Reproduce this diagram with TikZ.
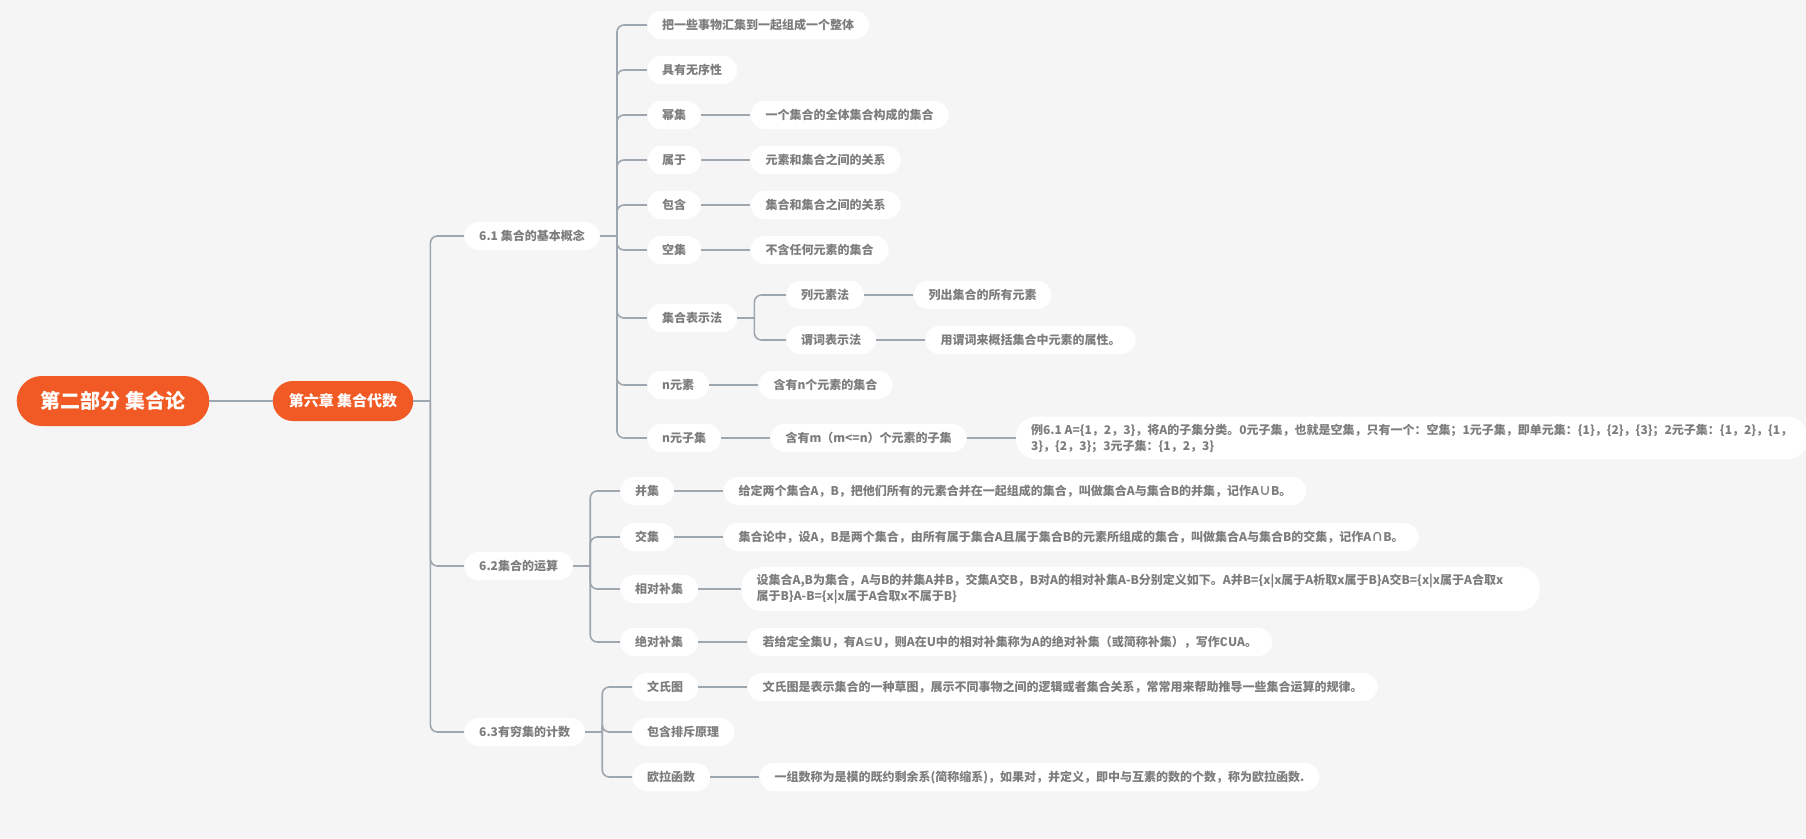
\documentclass[tikz,border=0pt]{standalone}
\usepackage{fontspec}
\setmainfont{Noto Sans CJK SC}
\newfontfamily\symfont{DejaVu Sans}
\usetikzlibrary{positioning,calc}
\definecolor{paper}{HTML}{F5F5F5}
\definecolor{flame}{HTML}{F15A24}
\definecolor{ink}{HTML}{7D7D7D}
\definecolor{wire}{HTML}{9EA6AF}

\begin{document}
\begin{tikzpicture}[x=1pt,y=-1pt,node distance=49pt,
  root/.style={fill=flame,text=white,font=\bfseries\fontsize{20}{24}\selectfont,rounded corners=25pt,minimum height=50pt,inner xsep=24pt},
  chapter/.style={fill=flame,text=white,font=\bfseries\fontsize{15}{18}\selectfont,rounded corners=20pt,minimum height=40pt,inner xsep=16pt},
  topic/.style={fill=white,text=ink,font=\bfseries\fontsize{12}{16}\selectfont,rounded corners=14pt,minimum height=28pt,inner xsep=15pt,align=left},
  note/.style={topic,rounded corners=20pt,inner ysep=7pt},
  link/.style={draw=wire,line width=1.6pt,rounded corners=7pt}]
\fill[paper] (0,0) rectangle (1806,838);
\useasboundingbox (0,0) rectangle (1806,838);
\node[root] (part) at (113,401) {第二部分 集合论};
\node[chapter] (ch6) at (343,401) {第六章 集合代数};
\node[topic,anchor=west] (s61) at (464,236) {6.1 集合的基本概念};
\node[topic,anchor=west] (s62) at (464,566) {6.2集合的运算};
\node[topic,anchor=west] (s63) at (464,732) {6.3有穷集的计数};
\node[topic,anchor=west] (whole) at (647,25) {把一些事物汇集到一起组成一个整体};
\node[topic,anchor=west] (order) at (647,70) {具有无序性};
\node[topic,anchor=west] (power) at (647,115) {幂集};
\node[topic,right=of power] (powerd) {一个集合的全体集合构成的集合};
\node[topic,anchor=west] (belong) at (647,160) {属于};
\node[topic,right=of belong] (belongd) {元素和集合之间的关系};
\node[topic,anchor=west] (incl) at (647,205) {包含};
\node[topic,right=of incl] (incld) {集合和集合之间的关系};
\node[topic,anchor=west] (empty) at (647,250) {空集};
\node[topic,right=of empty] (emptyd) {不含任何元素的集合};
\node[topic,anchor=west] (repr) at (647,318) {集合表示法};
\node[topic,anchor=west] (listm) at (786,295) {列元素法};
\node[topic,right=of listm] (listd) {列出集合的所有元素};
\node[topic,anchor=west] (predm) at (786,340) {谓词表示法};
\node[topic,right=of predm] (predd) {用谓词来概括集合中元素的属性。};
\node[topic,anchor=west] (nelem) at (647,385) {n元素};
\node[topic,right=of nelem] (nelemd) {含有n个元素的集合};
\node[topic,anchor=west] (nsub) at (647,438) {n元子集};
\node[topic,right=of nsub] (nsubd) {含有m（m<=n）个元素的子集};
\node[note,right=of nsubd] (example) {例6.1 A=\{1，2，3\}，将A的子集分类。0元子集，也就是空集，只有一个：空集；1元子集，即单元集：\{1\}，\{2\}，\{3\}；2元子集：\{1，2\}，\{1，\\3\}，\{2，3\}；3元子集：\{1，2，3\}};
\node[topic,anchor=west] (union) at (620,491) {并集};
\node[topic,right=of union] (uniond) {给定两个集合A，B，把他们所有的元素合并在一起组成的集合，叫做集合A与集合B的并集，记作A∪B。};
\node[topic,anchor=west] (inter) at (620,537) {交集};
\node[topic,right=of inter] (interd) {集合论中，设A，B是两个集合，由所有属于集合A且属于集合B的元素所组成的集合，叫做集合A与集合B的交集，记作A∩B。};
\node[topic,anchor=west] (relc) at (620,589) {相对补集};
\node[note,text width=768pt,right=43pt of relc] (relcd) {设集合A,B为集合，A与B的并集A并B，交集A交B，B对A的相对补集A-B分别定义如下。A并B=\{x|x属于A析取x属于B\}A交B=\{x|x属于A合取x\\属于B\}A-B=\{x|x属于A合取x不属于B\}};
\node[topic,anchor=west] (absc) at (620,642) {绝对补集};
\node[topic,right=of absc] (abscd) {若给定全集U，有A{\symfont ⊆}U，则A在U中的相对补集称为A的绝对补集（或简称补集），写作{\symfont ∁}UA。};
\node[topic,anchor=west] (venn) at (632,687) {文氏图};
\node[topic,right=of venn] (venND) {文氏图是表示集合的一种草图，展示不同事物之间的逻辑或者集合关系，常常用来帮助推导一些集合运算的规律。};
\node[topic,anchor=west] (incex) at (632,732) {包含排斥原理};
\node[topic,anchor=west] (euler) at (632,777) {欧拉函数};
\node[topic,right=of euler] (eulerd) {一组数称为是模的既约剩余系(简称缩系)，如果对，并定义，即中与互素的数的个数，称为欧拉函数.};
\coordinate (j0) at ($(ch6.east)+(17,0)$);
\coordinate (j1) at ($(s61.east)+(17,0)$);
\coordinate (j2) at ($(s62.east)+(17,0)$);
\coordinate (j3) at ($(s63.east)+(17,0)$);
\coordinate (j4) at ($(repr.east)+(17,0)$);
\draw[link] (part) -- (ch6);
\foreach \a/\j in {ch6/j0,s61/j1,s62/j2,s63/j3,repr/j4}
  \draw[link] (\a.east) -- (\j);
\foreach \c in {s61,s62,s63} \draw[link] (j0) |- (\c.west);
\foreach \c in {whole,order,power,belong,incl,empty,repr,nelem,nsub} \draw[link] (j1) |- (\c.west);
\foreach \c in {union,inter,relc,absc} \draw[link] (j2) |- (\c.west);
\foreach \c in {venn,incex,euler} \draw[link] (j3) |- (\c.west);
\foreach \c in {listm,predm} \draw[link] (j4) |- (\c.west);
\foreach \a/\b in {power/powerd,belong/belongd,incl/incld,empty/emptyd,listm/listd,predm/predd,nelem/nelemd,nsub/nsubd,nsubd/example,union/uniond,inter/interd,relc/relcd,absc/abscd,venn/venND,euler/eulerd}
  \draw[link] (\a) -- (\b);
\end{tikzpicture}
\end{document}
